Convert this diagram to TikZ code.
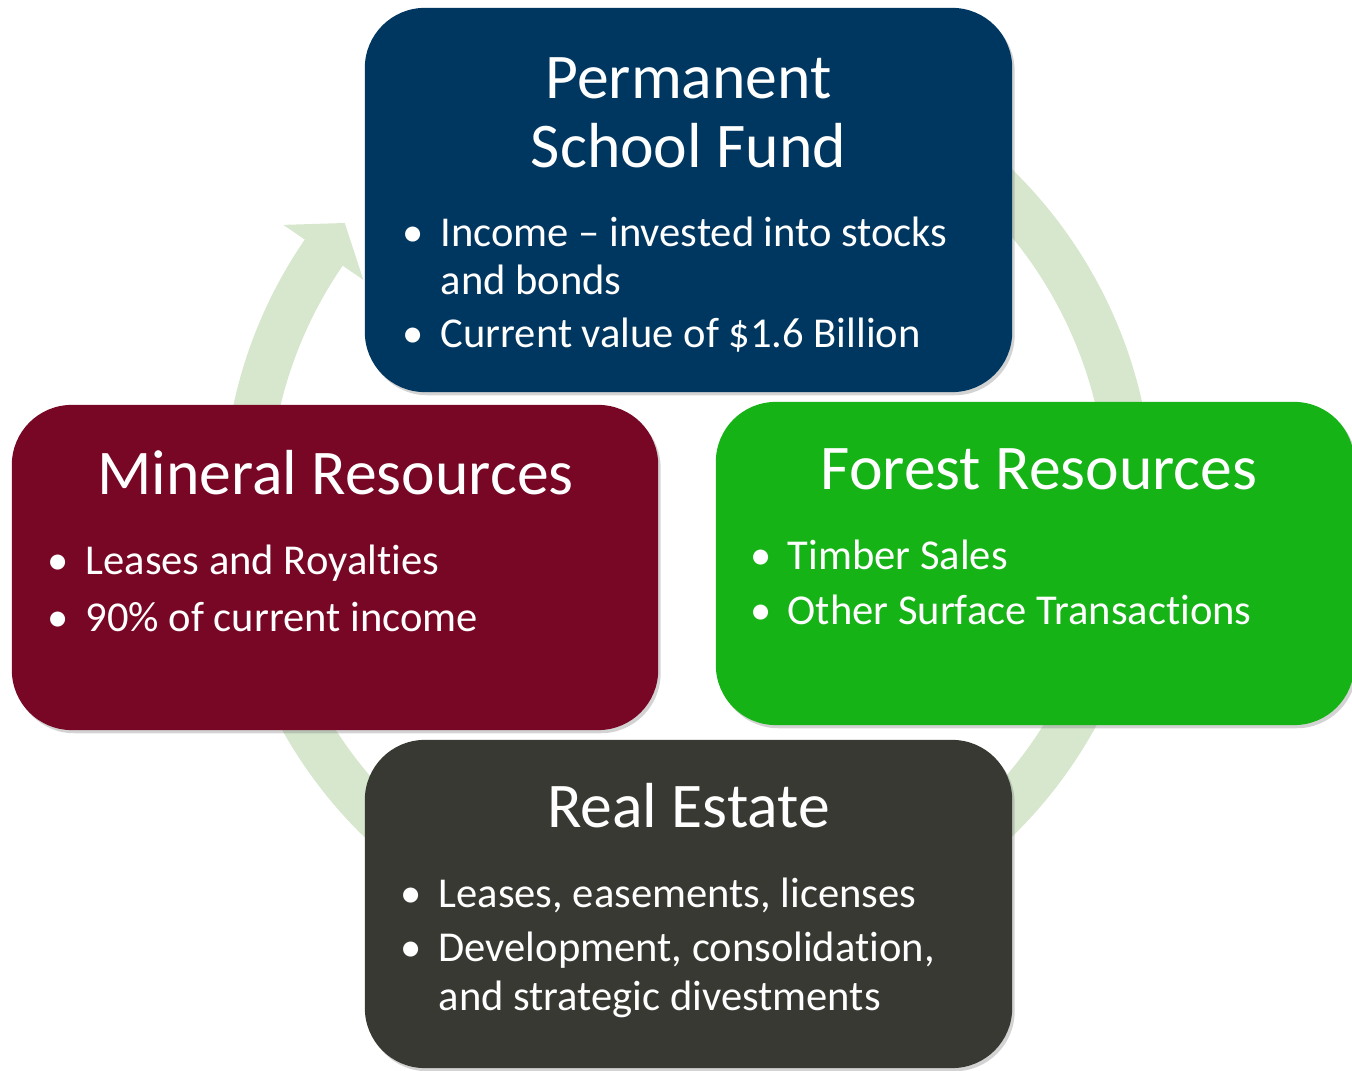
\documentclass[tikz,border=0pt]{standalone}
\usepackage{fontspec}
\setmainfont{Carlito}[Ligatures={TeX,NoCommon,NoContextual,NoRare}, RawFeature={-liga,-clig,-dlig,-calt}]
\usetikzlibrary{shadows}

\definecolor{psfblue}{RGB}{0,55,97}
\definecolor{minred}{RGB}{120,6,37}
\definecolor{forgreen}{RGB}{22,179,22}
\definecolor{estgray}{RGB}{57,57,52}
\definecolor{ringgreen}{RGB}{214,231,205}

\tikzset{
    box/.style={rounded corners=0.6cm, inner sep=0pt,
        drop shadow={shadow xshift=0.7pt, shadow yshift=-0.9pt, opacity=0.35}},
    ttl/.style={text=white, inner sep=0pt, anchor=base, font=\fontsize{18.1}{20}\selectfont},
    txt/.style={text=white, inner sep=0pt, anchor=base west, font=\fontsize{12.1}{14}\selectfont},
    bul/.style={text=white, inner sep=0pt, anchor=base, font=\fontsize{12.1}{14}\selectfont},
}

\begin{document}
\begin{tikzpicture}[x=0.01cm, y=0.01cm]
    \useasboundingbox (0,0) rectangle (1352,1070);

    % ring with arrow head
    \coordinate (ctr) at (688,567);
    \draw[ringgreen, line width=0.46cm] ([shift={(480:442)}]ctr) arc[start angle=480, end angle=145, radius=442];
    \fill[ringgreen] ([shift={(145.5:491)}]ctr) -- ([shift={(140.8:443)}]ctr) -- ([shift={(145.5:394)}]ctr) -- cycle;

    % boxes
    \node[box, fill=psfblue, minimum width=6.47cm, minimum height=3.84cm] (psf) at (688.5,870) {};
    \node[box, fill=minred, minimum width=6.46cm, minimum height=3.25cm] (mineral) at (335,502.5) {};
    \node[box, fill=forgreen, minimum width=6.38cm, minimum height=3.23cm] (forest) at (1035,506.5) {};
    \node[box, fill=estgray, minimum width=6.47cm, minimum height=3.28cm] (estate) at (688.5,166) {};

    % Permanent School Fund
    \node[ttl] (psft1) at (688.5,971) {Permanent};
    \node[ttl] (psft2) at (688.5,902) {School Fund};
    \node[bul] (psfb1) at (413,823) {\textbullet};
    \node[txt] (psfa1) at (440,823) {Income – invested into stocks};
    \node[txt] (psfa2) at (440,775) {and bonds};
    \node[bul] (psfb2) at (413,722) {\textbullet};
    \node[txt] (psfc1) at (440,722) {Current value of \$1.6 Billion};

    % Mineral Resources
    \node[ttl] (mint) at (335.5,575) {Mineral Resources};
    \node[bul] (minb1) at (58,495) {\textbullet};
    \node[txt] (mina1) at (85,495) {Leases and Royalties};
    \node[bul] (minb2) at (58,438) {\textbullet};
    \node[txt] (minc1) at (85,438) {90\% of current income};

    % Forest Resources
    \node[ttl] (fort) at (1039,580) {Forest Resources};
    \node[bul] (forb1) at (761,500) {\textbullet};
    \node[txt] (fora1) at (787,500) {Timber Sales};
    \node[bul] (forb2) at (761,445) {\textbullet};
    \node[txt] (forc1) at (787,445) {Other Surface Transactions};

    % Real Estate
    \node[ttl] (estt) at (688.5,242) {Real Estate};
    \node[bul] (estb1) at (411,162) {\textbullet};
    \node[txt] (esta1) at (438,162) {Leases, easements, licenses};
    \node[bul] (estb2) at (411,108) {\textbullet};
    \node[txt] (estc1) at (438,108) {Development, consolidation,};
    \node[txt] (estc2) at (438,60) {and strategic divestments};

\end{tikzpicture}
\end{document}
